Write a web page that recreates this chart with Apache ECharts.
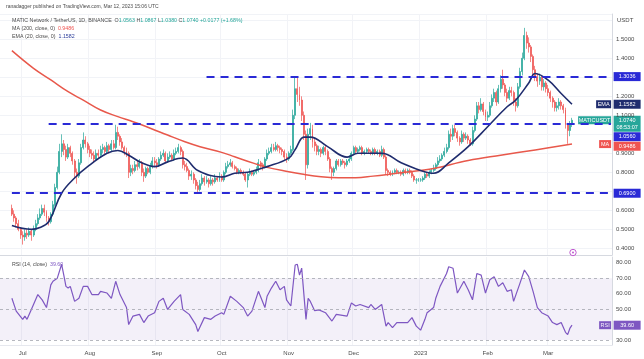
<!DOCTYPE html>
<html><head><meta charset="utf-8">
<script src="https://cdn.jsdelivr.net/npm/echarts@6/dist/echarts.min.js"></script>
<style>html,body{margin:0;padding:0;background:#fff}#c{width:644px;height:359px}</style>
</head><body><div id="c"></div>
<script>
// ---- axis / categories (days counted from 2022-07-01) ----
const AXIS_START_DAY = -10;      // first category of the axis
const AXIS_DAYS = 283;           // number of daily categories
const FIRST_CANDLE_DAY = -5;     // 2022-06-26
const monthLabels = ['Jan','Feb','Mar','Apr','May','Jun','Jul','Aug','Sep','Oct','Nov','Dec'];
const yearStartLabel = '2023';

// ---- daily candles (open = previous close) ----
const firstOpen = 0.61;
const closes = [
 .58,.56,.53,.50,.47,
 .46,.48,.47,.49,.47,.50,.53,.56,.58,.61,.59,.56,.54,.58,.63,.72,.80,.91,.95,.92,.88,.93,.90,.86,.80,.78,.85,.93,.97,.95,.92,
 .90,.89,.87,.90,.89,.92,.93,.91,.94,.92,.95,.93,1.01,.99,.96,.93,.91,.90,.80,.82,.81,.84,.83,.85,.80,.78,.82,.80,.83,.86,.85,
 .84,.87,.89,.90,.86,.88,.89,.87,.90,.91,.93,.91,.84,.83,.81,.78,.79,.76,.73,.71,.74,.77,.75,.76,.74,.76,.75,.77,.76,.78,
 .76,.80,.83,.84,.85,.83,.82,.80,.81,.80,.79,.76,.79,.80,.79,.80,.81,.85,.84,.83,.87,.90,.91,.93,.92,.94,.93,.92,.91,.88,.87,
 .90,.92,1.10,1.24,1.21,1.18,1.10,1.00,.84,1.00,1.03,.96,.94,.91,.92,.90,.93,.91,.87,.82,.80,.82,.86,.84,.86,.85,.84,.86,.87,.90,
 .93,.91,.92,.93,.90,.91,.92,.91,.90,.92,.90,.91,.89,.92,.88,.81,.80,.79,.80,.81,.80,.80,.79,.81,.80,.81,.80,.78,.76,.76,.76,
 .76,.77,.79,.78,.80,.81,.82,.84,.86,.87,.89,.91,.93,1.00,.99,1.03,1.01,.98,.96,1.00,.98,.99,.97,.95,1.02,1.08,1.15,1.13,1.16,1.12,1.09,
 1.10,1.15,1.19,1.22,1.17,1.24,1.29,1.26,1.22,1.19,1.23,1.22,1.17,1.15,1.25,1.33,1.40,1.52,1.48,1.46,1.41,1.34,1.30,1.28,1.30,1.25,1.27,1.24,
 1.22,1.19,1.17,1.14,1.15,1.17,1.15,1.13,1.05,1.02,1.0563,1.074
];
const highs = [
 .63,.60,.57,.55,.51,
 .49,.50,.50,.51,.50,.52,.55,.58,.61,.63,.63,.60,.57,.59,.65,.74,.83,.95,1.00,.97,.94,.95,.94,.91,.87,.82,.87,.95,1.01,.99,.96,
 .94,.92,.91,.92,.92,.94,.95,.94,.96,.95,.97,.97,1.05,1.04,1.00,.98,.94,.93,.91,.84,.84,.86,.86,.87,.86,.82,.83,.83,.85,.88,.88,
 .87,.88,.91,.92,.91,.90,.91,.90,.92,.93,.95,.94,.92,.86,.85,.82,.81,.80,.77,.75,.76,.79,.78,.78,.77,.78,.77,.79,.78,.80,
 .79,.81,.85,.86,.87,.86,.84,.83,.82,.82,.81,.80,.80,.82,.81,.81,.83,.87,.86,.85,.88,.92,.93,.95,.95,.96,.95,.94,.93,.92,.90,
 .91,.94,1.13,1.30,1.30,1.25,1.20,1.12,1.02,1.03,1.06,1.05,.98,.95,.94,.93,.94,.94,.92,.88,.83,.83,.87,.87,.87,.87,.86,.87,.89,.91,
 .94,.94,.93,.94,.94,.92,.93,.93,.92,.93,.93,.92,.92,.94,.93,.89,.82,.81,.81,.82,.82,.81,.81,.82,.82,.82,.82,.81,.79,.77,.77,
 .77,.78,.80,.80,.81,.82,.84,.85,.88,.89,.90,.93,.95,1.02,1.03,1.05,1.05,1.02,.99,1.02,1.01,1.01,1.00,.98,1.04,1.10,1.17,1.17,1.19,1.17,1.13,
 1.12,1.17,1.21,1.24,1.23,1.26,1.31,1.34,1.27,1.24,1.25,1.25,1.23,1.19,1.27,1.35,1.43,1.56,1.54,1.51,1.47,1.42,1.36,1.32,1.32,1.31,1.29,1.28,
 1.26,1.23,1.20,1.18,1.17,1.19,1.18,1.16,1.14,1.06,1.07,1.0867
];
const lows = [
 .57,.54,.51,.49,.45,
 .42,.44,.45,.46,.44,.46,.49,.52,.55,.57,.57,.54,.52,.53,.57,.62,.71,.79,.88,.89,.86,.87,.88,.84,.77,.74,.77,.84,.92,.93,.90,
 .88,.87,.85,.86,.87,.88,.90,.89,.90,.90,.91,.92,.92,.97,.94,.92,.89,.88,.77,.78,.79,.80,.81,.82,.78,.75,.77,.79,.79,.82,.83,
 .82,.83,.86,.88,.85,.85,.87,.86,.86,.89,.90,.89,.82,.81,.80,.76,.76,.74,.71,.69,.70,.73,.73,.74,.72,.73,.73,.74,.75,.75,
 .75,.75,.79,.82,.83,.82,.81,.79,.79,.79,.78,.75,.72,.78,.78,.78,.79,.80,.82,.81,.82,.86,.89,.90,.91,.91,.91,.90,.89,.86,.85,
 .86,.89,.91,1.08,1.17,1.15,1.07,.97,.76,.82,.97,.93,.91,.89,.89,.88,.89,.89,.86,.80,.76,.78,.81,.83,.83,.84,.82,.83,.85,.86,
 .89,.90,.90,.91,.89,.89,.90,.90,.89,.89,.89,.89,.88,.88,.87,.79,.78,.78,.78,.79,.79,.79,.78,.78,.79,.79,.79,.77,.75,.74,.75,
 .75,.75,.76,.77,.77,.79,.80,.81,.83,.85,.86,.88,.90,.92,.96,.97,.99,.96,.94,.95,.96,.97,.95,.94,.94,1.01,1.07,1.11,1.12,1.10,1.07,
 1.07,1.09,1.14,1.17,1.15,1.16,1.22,1.24,1.20,1.17,1.18,1.20,1.15,1.12,1.14,1.24,1.31,1.39,1.45,1.43,1.38,1.31,1.28,1.25,1.26,1.23,1.23,1.22,
 1.20,1.17,1.14,1.12,1.12,1.13,1.13,1.11,1.03,.95,.99,1.038
];

// ---- MA(200) and EMA(20), read at sample days ----
const maDays = [-5,5,13,21,28,36,44,51,59,67,75,82,92,98,107,113,123,129,138,146,154,162,169,175,184,190,206,221,237,254];
const maVals = [1.44,1.347,1.286,1.224,1.18,1.128,1.093,1.066,1.032,.996,.961,.935,.905,.882,.847,.826,.803,.791,.777,.772,.772,.78,.789,.798,.81,.82,.862,.89,.918,.9486];
const emaDays = [-5,4,8,12,18,24,30,39,44,49,55,61,67,74,81,92,98,104,113,123,126,130,133,141,150,155,166,175,184,190,197,206,215,224,228,234,237,243,249,254];
const emaVals = [.52,.50,.51,.54,.69,.77,.83,.90,.915,.89,.85,.83,.855,.875,.81,.775,.795,.80,.83,.875,.92,.985,.985,.935,.88,.90,.90,.85,.81,.795,.85,.935,1.04,1.145,1.18,1.27,1.32,1.285,1.215,1.1582];

// ---- RSI(14) read at sample days ----
const rsiDays = [-5,-3,0,1,2,4,7,9,11,13,14,16,18,19,20,21,22,24,26,28,30,32,35,36,39,41,43,45,48,49,51,54,56,58,61,63,65,67,70,73,74,77,80,81,84,87,89,92,93,96,99,102,104,106,109,112,113,115,117,119,121,122,124,126,127,128,129,131,132,133,135,137,140,143,145,150,152,154,156,160,161,163,166,168,169,171,173,178,180,182,184,186,187,190,191,193,196,197,199,201,204,206,208,210,212,214,216,218,220,222,224,226,227,230,232,234,236,238,240,243,245,247,249,251,252,253,254];
const rsiVals = [57,48.7,43.4,45.5,43.4,49.8,59.4,56,51,65.7,68,70,79,72,64.7,63.6,64.7,55,57,64.7,64.7,59.4,59.4,61.5,60.4,57,68,59.4,51,40,45.5,46.6,41.3,45.5,47.7,55,57,49.8,55,59.4,49.8,46.6,40,35.5,44.5,43.4,45.5,47.7,46.6,58.3,55,51,45.5,48.7,61.5,51,58.3,63.6,68,62.5,64.7,56,52,78.5,79,72,76.5,43.4,57,55,49,49.5,47.7,42.3,46.6,45.5,54,52,53,51,53,49.8,53,39,41.3,38,41.3,41.3,44.5,39,36.4,43.4,47.7,51,57,64.7,73,77.4,76.4,60.4,68,62.5,56,73,72,60.4,69,71,64.7,67,61.5,62.5,55,67,75.3,71,61.5,51,47.7,45.5,41.3,40,41.3,35,33.5,37.5,39.6];

// ---- horizontal levels ----
const levelVals = [1.3036, 1.0560, 0.6900];
const levelStartDays = [85, 12, -5];
const lastClose = 1.0740, lastMA = 0.9486, lastEMA = 1.1582, lastRSI = 39.60;

// ---------------------------------------------------------------
const FONT = '"Liberation Sans", Arial, sans-serif';
const base = Date.UTC(2022, 6, 1);
const cats = [];
for (let i = 0; i < AXIS_DAYS; i++) {
  cats.push(new Date(base + (i + AXIS_START_DAY) * 86400000).toISOString().slice(0, 10));
}
const idx = d => d - AXIS_START_DAY;
const isMonthStart = i => cats[i].slice(8) === '01';
const monthLabel = v => { const m = +v.slice(5, 7); return m === 1 ? yearStartLabel : monthLabels[m - 1]; };

const candles = new Array(AXIS_DAYS).fill('-');
let prev = firstOpen;
closes.forEach((c, k) => { candles[idx(FIRST_CANDLE_DAY) + k] = [prev, c, lows[k], highs[k]]; prev = c; });
function sparse(days, vals) { const a = new Array(AXIS_DAYS).fill('-'); days.forEach((d, k) => a[idx(d)] = vals[k]); return a; }

const UP = '#26a69a', DOWN = '#ef5350', BLUE = '#2a2ad6', NAVY = '#1f2c6e', MARED = '#e8584b', PURPLE = '#7e57c2';
const near = (a, b) => Math.abs(a - b) < 1e-6;

const chart = echarts.init(document.getElementById('c'));
chart.setOption({
  animation: false,
  textStyle: { fontFamily: FONT },
  grid: [
    { left: 0, right: 32, top: 14, height: 241 },
    { left: 0, right: 32, top: 257, height: 88 }
  ],
  xAxis: [
    { type: 'category', gridIndex: 0, data: cats, boundaryGap: true,
      axisLabel: { show: false }, axisTick: { show: false },
      axisLine: { lineStyle: { color: '#d6d9e0' } },
      splitLine: { show: true, interval: i => isMonthStart(i), lineStyle: { color: '#f2f3f7' } } },
    { type: 'category', gridIndex: 1, data: cats, boundaryGap: true,
      axisTick: { show: false },
      axisLine: { lineStyle: { color: '#e6e8ee' } },
      axisLabel: { interval: i => isMonthStart(i), formatter: v => monthLabel(v), fontSize: 6, color: '#4a4a4a', margin: 5 },
      splitLine: { show: true, interval: i => isMonthStart(i), lineStyle: { color: '#f2f3f7' } } }
  ],
  yAxis: [
    { type: 'value', gridIndex: 0, position: 'right', min: 0.365, max: 1.633, splitNumber: 12,
      name: 'USDT', nameLocation: 'end', nameGap: -6,
      nameTextStyle: { fontSize: 6, color: '#4a4a4a', align: 'left', verticalAlign: 'middle', padding: [0, 0, 0, 5] },
      axisLine: { show: true, lineStyle: { color: '#d6d9e0' } }, axisTick: { show: false },
      axisLabel: { showMinLabel: false, showMaxLabel: false, fontSize: 6, color: '#4a4a4a', margin: 4,
        formatter: v => (near(v, 1.3) || near(v, 1.0) || near(v, 0.7) || near(v, 1.6)) ? '' : v.toFixed(4) },
      splitLine: { lineStyle: { color: '#f1f3f7' } } },
    { type: 'value', gridIndex: 1, position: 'right', min: 26.8, max: 83.7, splitNumber: 5,
      axisLine: { show: true, lineStyle: { color: '#d6d9e0' } }, axisTick: { show: false },
      axisLabel: { showMinLabel: false, showMaxLabel: false, fontSize: 6, color: '#4a4a4a', margin: 4,
        formatter: v => (Math.abs(v % 10) < 1e-6 && !near(v, 40)) ? v.toFixed(2) : '' },
      splitLine: { show: false } }
  ],
  series: [
    { type: 'candlestick', xAxisIndex: 0, yAxisIndex: 0, data: candles, barWidth: '68%',
      itemStyle: { color: UP, color0: DOWN, borderColor: UP, borderColor0: DOWN, borderWidth: 0.7 },
      markLine: { silent: true, symbol: ['none', 'none'], label: { show: false }, z: 10,
        lineStyle: { color: BLUE, width: 2, type: [8, 6] },
        data: levelVals.map((v, k) => [{ coord: [cats[idx(levelStartDays[k])], v] }, { coord: [cats[AXIS_DAYS - 1], v] }]) } },
    { type: 'line', xAxisIndex: 0, yAxisIndex: 0, data: sparse(maDays, maVals), connectNulls: true, smooth: 0.4,
      showSymbol: false, lineStyle: { color: MARED, width: 1.5 }, z: 3 },
    { type: 'line', xAxisIndex: 0, yAxisIndex: 0, data: sparse(emaDays, emaVals), connectNulls: true, smooth: 0.4,
      showSymbol: false, lineStyle: { color: NAVY, width: 1.6 }, z: 4 },
    { type: 'line', xAxisIndex: 1, yAxisIndex: 1, data: sparse(rsiDays, rsiVals), connectNulls: true,
      showSymbol: false, lineStyle: { color: PURPLE, width: 1.2 },
      markArea: { silent: true, itemStyle: { color: 'rgba(126,87,194,0.09)' }, data: [[{ yAxis: 30 }, { yAxis: 70 }]] },
      markLine: { silent: true, symbol: ['none', 'none'], label: { show: false },
        lineStyle: { color: '#a3a6ae', width: 0.8, type: [3, 3] },
        data: [{ yAxis: 70 }, { yAxis: 50 }, { yAxis: 30 }] } }
  ]
});

// ---- price-axis tags, placed through the axes' own scales ----
const axisX = chart.convertToPixel({ xAxisIndex: 0 }, cats[AXIS_DAYS - 1]) + 1.2;
const py = v => chart.convertToPixel({ yAxisIndex: 0 }, v);
const ry = v => chart.convertToPixel({ yAxisIndex: 1 }, v);
const tagFont = '5.5px ' + FONT;
function box(x, y, w, h, color, lines) {
  const kids = [{ type: 'rect', shape: { x: x, y: y, width: w, height: h }, style: { fill: color } }];
  lines.forEach((t, k) => kids.push({ type: 'text', style: { text: t, x: x + w / 2, y: y + 4.6 + k * 7, fill: '#fff', font: tagFont, align: 'center', verticalAlign: 'middle' } }));
  return { type: 'group', z: 100, children: kids };
}
const valTags = [
  { v: levelVals[0], c: BLUE, lines: [levelVals[0].toFixed(4)], h: 9 },
  { v: lastEMA, c: NAVY, lines: [lastEMA.toFixed(4)], h: 9, name: 'EMA', nw: 15 },
  { v: lastClose, c: UP, lines: [lastClose.toFixed(4), '08:53:07'], h: 16, name: 'MATICUSDT', nw: 33 },
  { v: levelVals[1], c: BLUE, lines: [levelVals[1].toFixed(4)], h: 9 },
  { v: lastMA, c: DOWN, lines: [lastMA.toFixed(4)], h: 9, name: 'MA', nw: 12 },
  { v: levelVals[2], c: BLUE, lines: [levelVals[2].toFixed(4)], h: 9 }
];
const gfx = [];
let prevBottom = -1;
valTags.forEach(t => {
  const yc = py(t.v);
  let top = Math.max(yc - 4.5, prevBottom + 0.5);
  prevBottom = top + t.h;
  gfx.push(box(axisX + 1.5, top, 27, t.h, t.c, t.lines));
  if (t.name) gfx.push(box(axisX - 1 - t.nw, yc - 4, t.nw, 8, t.c, [t.name]));
});
const ryc = ry(lastRSI);
gfx.push(box(axisX + 1.5, ryc - 4.5, 27, 9, PURPLE, [lastRSI.toFixed(2)]));
gfx.push(box(axisX - 13, ryc - 4, 12, 8, PURPLE, ['RSI']));

// ---- header & legends ----
const txt = (x, y, text, rich, size) => ({ type: 'text', z: 100, style: { x: x, y: y, text: text, rich: rich, font: (size || 5.3) + 'px ' + FONT, fill: '#4a4a4a', verticalAlign: 'middle' } });
gfx.push(txt(6, 7, 'ranadagger published on TradingView.com, Mar 12, 2023 15:06 UTC', null, 5));
const rs = c => ({ fill: c, font: '5.3px ' + FONT });
gfx.push(txt(12, 20.5, '{t|MATIC Network / TetherUS, 1D, BINANCE}  {t|O}{v|1.0563} {t|H}{v|1.0867} {t|L}{v|1.0380} {t|C}{v|1.0740} {v|+0.0177 (+1.68%)}', { t: rs('#4a4a4a'), v: rs(UP) }));
gfx.push(txt(12, 28.8, '{t|MA (200, close, 0)}  {v|' + lastMA.toFixed(4) + '}', { t: rs('#4a4a4a'), v: rs(DOWN) }));
gfx.push(txt(12, 36.8, '{t|EMA (20, close, 0)}  {v|' + lastEMA.toFixed(4) + '}', { t: rs('#4a4a4a'), v: rs('#2b3c9a') }));
gfx.push(txt(12, 265, '{t|RSI (14, close)}  {v|' + lastRSI.toFixed(2) + '}', { t: rs('#4a4a4a'), v: rs(PURPLE) }));

// small event marker near last bar
const lx = chart.convertToPixel({ xAxisIndex: 0 }, cats[idx(254)]);
gfx.push({ type: 'circle', z: 100, shape: { cx: lx + 1, cy: py(0.378), r: 3.2 }, style: { fill: '#fff', stroke: '#c05bd0', lineWidth: 1 } });
gfx.push({ type: 'circle', z: 101, shape: { cx: lx + 1, cy: py(0.378), r: 1 }, style: { fill: '#c05bd0' } });

chart.setOption({ graphic: gfx });
</script>
</body></html>
